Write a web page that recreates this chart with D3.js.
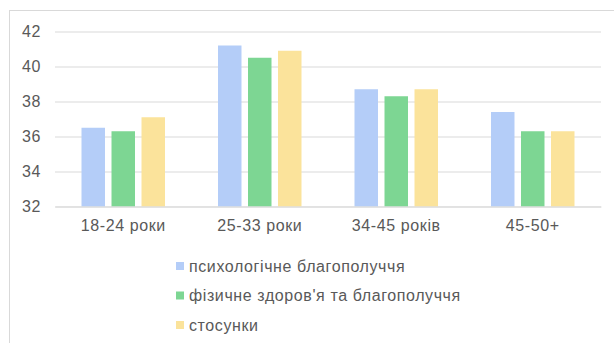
<!DOCTYPE html>
<html>
<head>
<meta charset="utf-8">
<script src="https://cdn.jsdelivr.net/npm/d3@7/dist/d3.min.js"></script>
<style>
  html, body { margin: 0; padding: 0; background: #fff; }
  svg { display: block; font-family: "Liberation Sans", Arial, sans-serif; }
</style>
</head>
<body>
<svg id="chart" width="614" height="343"></svg>
<script>
// Age groups and wellbeing scores
const categories = ["18-24 роки", "25-33 роки", "34-45 років", "45-50+"];
const seriesNames = ["психологічне благополуччя", "фізичне здоров'я та благополуччя", "стосунки"];
const psychological = [36.5, 41.2, 38.7, 37.4];
const physical = [36.3, 40.5, 38.3, 36.3];
const relationships = [37.1, 40.9, 38.7, 36.3];
const yTicks = [32, 34, 36, 38, 40, 42];
const colors = ["#b4cdf8", "#7dd693", "#fbe39b"];

const series = [psychological, physical, relationships];

const svg = d3.select("#chart");
const margin = { left: 55, right: 13, top: 31.5, bottom: 136.5 };
const W = 614, H = 343;
const textColor = "#595959";

// chart frame
svg.append("rect")
  .attr("x", 9.5).attr("y", 10.5)
  .attr("width", 640).attr("height", 400)
  .attr("fill", "none").attr("stroke", "#d9d9d9").attr("stroke-width", 1);

const x0 = d3.scaleBand().domain(categories).range([margin.left, W - margin.right]).paddingInner(0).paddingOuter(0);
const x1 = d3.scaleBand().domain(d3.range(seriesNames.length)).range([26.5, x0.bandwidth() - 26.5]).paddingInner(0.217).paddingOuter(0);
const y = d3.scaleLinear().domain([32, 42]).range([H - margin.bottom, margin.top]);

// gridlines and value labels
const yAxis = d3.axisLeft(y).tickValues(yTicks).tickSize(-(W - margin.left - margin.right)).tickPadding(14).tickFormat(d3.format("d"));
const gy = svg.append("g").attr("transform", `translate(${margin.left},0)`).call(yAxis);
gy.select(".domain").remove();
gy.selectAll(".tick line").attr("stroke", "#d9d9d9").attr("stroke-width", 1);
gy.selectAll(".tick text").attr("fill", textColor)
  .style("font-size", "16px").style("letter-spacing", "0.6px")
  .style("font-family", "Liberation Sans, Arial, sans-serif");

// bars
const groups = svg.append("g").selectAll("g").data(categories).join("g")
  .attr("transform", d => `translate(${x0(d)},0)`);
groups.selectAll("rect")
  .data((d, i) => series.map((s, k) => ({ k, v: s[i] })))
  .join("rect")
  .attr("x", d => x1(d.k))
  .attr("width", x1.bandwidth())
  .attr("y", d => y(d.v))
  .attr("height", d => y(32) - y(d.v))
  .attr("fill", d => colors[d.k]);

// category axis
const xAxis = d3.axisBottom(x0).tickSize(0).tickPadding(13);
const gx = svg.append("g").attr("transform", `translate(0,${y(32)})`).call(xAxis);
gx.select(".domain").attr("stroke", "#d9d9d9");
gx.selectAll(".tick text").attr("fill", textColor)
  .style("font-size", "16px").style("letter-spacing", "0.6px")
  .style("font-family", "Liberation Sans, Arial, sans-serif");

// legend
const legend = svg.append("g").attr("transform", "translate(176,266)");
const li = legend.selectAll("g").data(seriesNames).join("g")
  .attr("transform", (d, i) => `translate(0,${i * 29.5})`);
li.append("rect").attr("x", 0).attr("y", -4).attr("width", 8).attr("height", 8)
  .attr("fill", (d, i) => colors[i]);
li.append("text").attr("x", 13).attr("y", 0).attr("dy", "0.35em")
  .attr("fill", textColor).style("font-size", "16px").style("letter-spacing", "0.6px")
  .text(d => d);
</script>
</body>
</html>
